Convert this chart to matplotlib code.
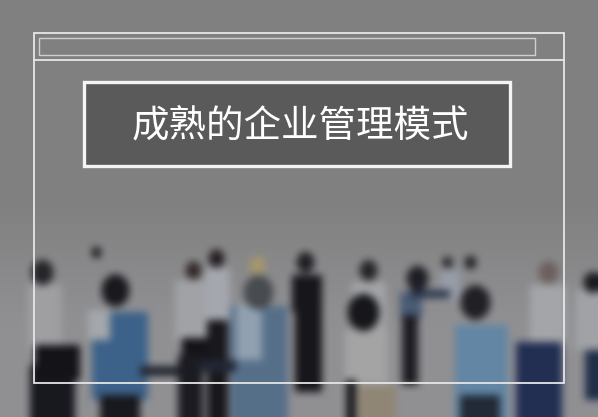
import matplotlib
matplotlib.use('Agg')
import matplotlib.pyplot as plt
from matplotlib.patches import Rectangle
import numpy as np

plt.rcParams['font.family'] = ['Noto Sans CJK SC', 'DejaVu Sans']

W, H = 598, 417
title = '成熟的企业管理模式'

# blurred crowd in the photo: heads (x, y, radius, colour)
head_x = [42, 96, 115, 193, 216, 257, 258, 305, 368, 363, 417, 447, 470, 475, 548, 592]
head_y = [272, 252, 290, 270, 258, 265, 292, 262, 270, 312, 278, 262, 262, 302, 272, 282]
head_r = [11, 5, 14, 8, 8, 8, 15, 9, 9, 16, 11, 5, 6, 15, 10, 9]
head_c = ['#2a2a30', '#202025', '#1c1c22', '#3a3030', '#2a2428', '#b8a878', '#505458', '#24242a',
          '#2a2a2e', '#1a1a1e', '#22222a', '#26262c', '#26262c', '#24242a', '#7a6a6a', '#1e1e24']

# bodies as boxes (x0, x1, y0, y1, colour)
body_x0 = [28, 30, 35, 92, 88, 100, 175, 182, 178, 205, 207, 230, 236, 292, 295, 352, 345, 357, 346, 400, 402, 440, 455, 460, 468, 530, 516, 575, 585,
           140, 200, 410]
body_x1 = [62, 75, 80, 148, 110, 140, 210, 208, 203, 230, 228, 288, 262, 322, 322, 386, 388, 396, 356, 422, 418, 460, 508, 500, 500, 566, 562, 598, 598,
           178, 236, 450]
body_y0 = [284, 365, 345, 312, 310, 395, 280, 338, 355, 268, 320, 306, 305, 275, 310, 282, 330, 385, 380, 292, 315, 270, 325, 395, 395, 285, 342, 290, 350,
           366, 360, 290]
body_y1 = [350, 417, 380, 400, 340, 417, 340, 362, 417, 325, 417, 417, 360, 312, 392, 330, 417, 417, 417, 318, 385, 300, 417, 417, 417, 350, 417, 350, 400,
           376, 372, 298]
body_c = ['#c2c2c6', '#1e1e26', '#18181e', '#4a78a8', '#c8ccd2', '#1e1e26', '#c4c6ca', '#18181e', '#22222a',
          '#c8ccd4', '#1e1e24', '#6a88a8', '#b0c4d8', '#1c1c22', '#1c1c22', '#c6c8cc', '#c8c8ca', '#b0a490', '#1e1e22',
          '#5a7090', '#24242c', '#b8c0cc', '#78a4c8', '#2a3444', '#2a3444', '#c8cace', '#2a3a66', '#c4c6ca', '#2a3a5a',
          '#2a2e3a', '#2a3040', '#34405a']


def hex_rgb(c):
    return np.array([int(c[i:i + 2], 16) for i in (1, 3, 5)], dtype=float)


yy, xx = np.mgrid[0:H, 0:W]
grad = np.clip((yy - 200) / 120.0, 0, 1)
img = np.zeros((H, W, 3))
base = 128 + 16 * grad
for k in range(3):
    img[:, :, k] = base
img[:, :, 2] += 3 * grad

for x0, x1, y0, y1, c in zip(body_x0, body_x1, body_y0, body_y1, body_c):
    img[y0:y1, x0:x1] = hex_rgb(c) * 0.82
for x, y, r, c in zip(head_x, head_y, head_r, head_c):
    m = (xx - x) ** 2 + ((yy - y) / 1.15) ** 2 <= r ** 2
    img[m] = hex_rgb(c) * 0.9

# soften like the out-of-focus photo
kern = np.ones(9) / 9.0
for _ in range(2):
    for k in range(3):
        img[:, :, k] = np.apply_along_axis(lambda v: np.convolve(np.pad(v, 4, mode='edge'), kern, mode='valid'), 1, img[:, :, k])
        img[:, :, k] = np.apply_along_axis(lambda v: np.convolve(np.pad(v, 4, mode='edge'), kern, mode='valid'), 0, img[:, :, k])
img = np.clip(img, 0, 255) / 255.0

fig = plt.figure(figsize=(5.98, 4.17), dpi=100)
ax = fig.add_axes([0, 0, 1, 1])
ax.imshow(img, extent=(0, W, H, 0), interpolation='bilinear')
ax.set_xlim(0, W)
ax.set_ylim(H, 0)
ax.axis('off')

# browser-like frame
ax.add_patch(Rectangle((34, 33), 530, 350, fill=False, ec='#e6e6e6', lw=1.3))
ax.plot([34, 564], [60, 60], color='#e6e6e6', lw=1.3)
ax.add_patch(Rectangle((39, 38), 496, 17, fill=False, ec='#cfcfcf', lw=1.0))

# title box
ax.add_patch(Rectangle((84, 82), 426, 84, fc='#5a5a5a', ec='#f4f4f4', lw=2.4))
ax.text(300, 126, title, color='white', fontsize=27, ha='center', va='center')

plt.savefig('out.png', dpi=100)
